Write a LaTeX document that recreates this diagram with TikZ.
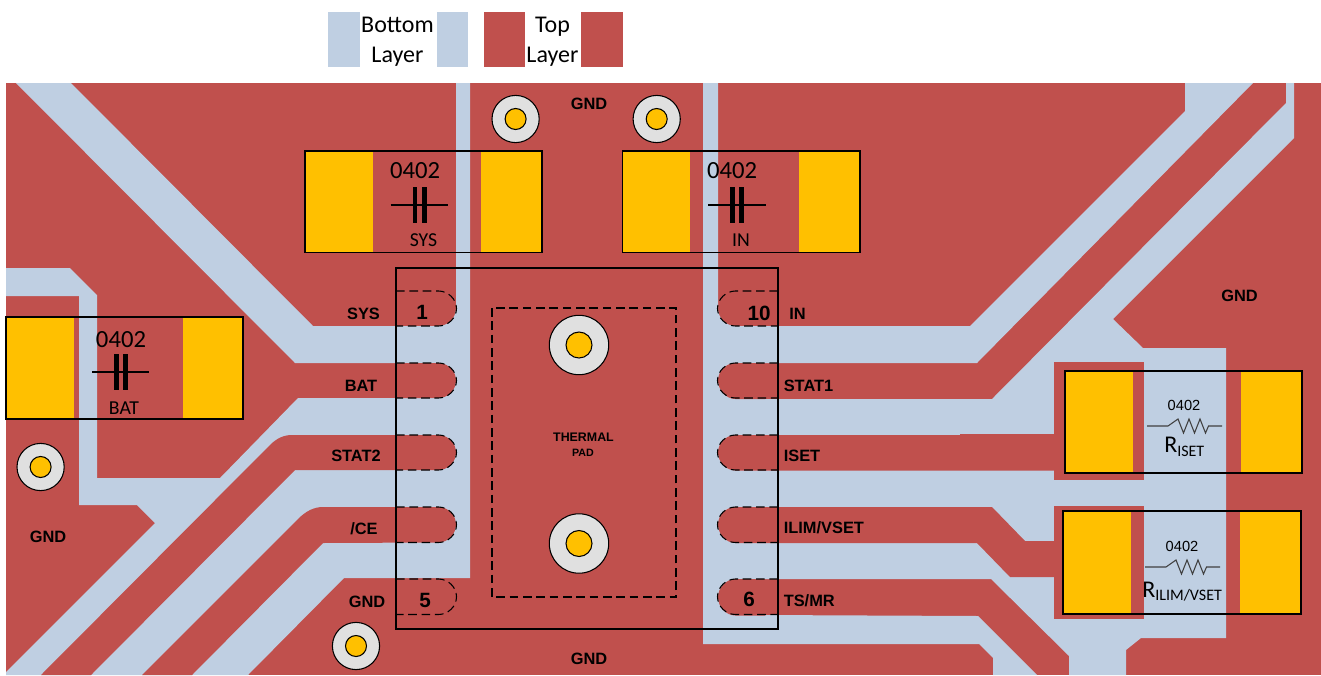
\documentclass[tikz,border=0pt]{standalone}
\usepackage{fontspec}
\setmainfont{Liberation Sans}
\newfontfamily\calfont{Carlito}
\definecolor{toplayer}{HTML}{C0504D}
\definecolor{botlayer}{HTML}{BFCFE2}
\definecolor{padyel}{HTML}{FFC000}
\definecolor{viagrey}{HTML}{E0E0E0}
\tikzset{
  redfill/.style={fill=toplayer,draw=none},
  bluefill/.style={fill=botlayer,draw=none},
  yelfill/.style={fill=padyel,draw=none},
  compbox/.style={draw=black,line width=0.8pt,fill=none},
  dashline/.style={draw=black,line width=0.8pt,dash pattern=on 6.5pt off 3.5pt},
  lab/.style={inner sep=0pt,font=\bfseries\fontsize{12.3}{14}\selectfont},
  pinnum/.style={inner sep=0pt,font=\bfseries\fontsize{15.5}{17}\selectfont},
  cal/.style={inner sep=0pt,font=\calfont\fontsize{18.5}{20}\selectfont},
  calsmall/.style={inner sep=0pt,font=\calfont\fontsize{14.8}{16}\selectfont},
  legendtxt/.style={inner sep=0pt,align=center,font=\calfont\fontsize{18}{22.5}\selectfont},
  resval/.style={inner sep=0pt,font=\fontsize{11}{13}\selectfont},
  reslab/.style={inner sep=0pt,anchor=base west,font=\calfont\fontsize{18}{20}\selectfont},
  zig/.style={draw=black!75,line width=0.8pt,line join=miter},
  capwire/.style={draw=black,line width=1.1pt},
  capplate/.style={draw=black,line width=3.4pt},
}
% via: centre x, y, outer r, inner r, name
\newcommand{\myvia}[5]{%
  \path[fill=viagrey,draw=black,line width=0.8pt] (#1,#2) circle[radius=#3*0.75pt];
  \path[fill=padyel,draw=black,line width=0.8pt] (#1,#2) circle[radius=#4*0.75pt];
}
% capacitor: wire x1,x2, plate xs, y centre, plate half height
\newcommand{\mycap}[6]{%
  \draw[capwire] (#1,#4) -- (#2,#4);
  \draw[capplate] (#3,#4-#5) -- (#3,#4+#5);
  \draw[capplate] (#6,#4-#5) -- (#6,#4+#5);
}
\newcommand{\myres}[2]{% start x of zigzag, y
  \draw[zig] (#1-21,#2) -- (#1,#2) -- ++(10,-7) -- ++(5.5,14) -- ++(5.5,-14) -- ++(5.5,14) -- ++(5.5,-14) -- ++(5.5,14) -- ++(3,-7) -- (#1+54,#2);
}
\begin{document}
\begin{tikzpicture}[x=0.75pt,y=-0.75pt]
\useasboundingbox (0,0) rectangle (1321,675);
% legend
\fill[botlayer] (328,12) rectangle (360,67);
\fill[botlayer] (437,12) rectangle (468,67);
\fill[toplayer] (484,12) rectangle (525,67);
\fill[toplayer] (581,12) rectangle (623,67);
\node[legendtxt] (legbot) at (397.5,42) {Bottom\\Layer};
\node[legendtxt] (legtop) at (552.5,42) {Top\\Layer};
% board
\fill[toplayer] (6,83) rectangle (1321,675);
% left copper (bottom layer)
\path[bluefill] (16,83) -- (71,83) -- (313,326) -- (438.5,326)
  .. controls (448,326) and (456,318) .. (456,308.5)
  -- (456,83) -- (470,83) -- (470,578) -- (344,578) -- (248,675)
  -- (6,675) -- (6,672) -- (155,523) -- (137,505) -- (79,505) -- (79,296)
  -- (6,296) -- (6,268) -- (70,268) -- (97,295) -- (97,478) -- (220,478)
  -- (298,398) -- (420,398) -- (420,363) -- (295,363) -- cycle;
% right copper (bottom layer)
\path[bluefill] (703,83) -- (718,83) -- (718,308.5)
  .. controls (718,318) and (726,326) .. (735.5,326)
  -- (970,326) -- (1185,111) -- (1185,83) -- (1253,83) -- (977,363)
  -- (760,363) -- (760,399) -- (992,399) -- (1286,103) -- (1286,83)
  -- (1294,83) -- (1294,138) -- (1113,319) -- (1143,348) -- (1226,348)
  -- (1226,638) -- (1141,638) -- (1126,650) -- (1126,675) -- (1069,675)
  -- (1069,656) -- (991,579) -- (760,579) -- (760,615) -- (978,616)
  -- (1037,675) -- (993,675) -- (993,658) -- (979,644) -- (703,644) -- cycle;
% left traces
\path[redfill] (41,675) -- (270,445) .. controls (277,438) and (284,435) .. (292,435)
  -- (438.5,435) .. controls (448,435) and (456,443) .. (456,452.5)
  .. controls (456,462) and (448,470) .. (438.5,470) -- (295,470) -- (91,675) -- cycle;
\path[redfill] (142,675) -- (298,519) .. controls (306,511) and (314,507) .. (323,507)
  -- (438.5,507) .. controls (448,507) and (456,515) .. (456,524.5)
  .. controls (456,534) and (448,542.5) .. (438.5,542.5) -- (323,543) -- (192,675) -- cycle;
\path[redfill] (400,363) -- (438.5,363) .. controls (448,363) and (456,371) .. (456,380.5)
  .. controls (456,390) and (448,398) .. (438.5,398) -- (400,398) -- cycle;
% right traces
\path[redfill] (765,363) -- (735.5,363) .. controls (726,363) and (718,371) .. (718,380.5)
  .. controls (718,390) and (726,399) .. (735.5,399) -- (765,399) -- cycle;
\path[redfill] (765,579) -- (735.5,579) .. controls (726,579) and (718,588) .. (718,597)
  .. controls (718,607) and (726,615.5) .. (735.5,615.5) -- (765,615.5) -- cycle;
\path[redfill] (1054,434) -- (960,434) -- (960,435) -- (735.5,435) .. controls (726,435) and (718,443) .. (718,452.5)
  .. controls (718,462) and (726,470.5) .. (735.5,470.5) -- (1054,470.5) -- cycle;
\path[redfill] (1054,541) -- (1025,541) -- (992,507) -- (735.5,507)
  .. controls (726,507) and (718,515) .. (718,524.5)
  .. controls (718,534) and (726,543) .. (735.5,543) -- (977,543) -- (1010,577) -- (1054,577) -- cycle;
\fill[toplayer] (1054,362) rectangle (1144,480);
\fill[toplayer] (1054,506) rectangle (1144,619);
% component pads
\fill[padyel] (305,151) rectangle (373,252.5);
\fill[padyel] (481,151) rectangle (542,252.5);
\fill[padyel] (622.5,151) rectangle (690,252.5);
\fill[padyel] (799,151) rectangle (860,252.5);
\fill[padyel] (6,317) rectangle (74,419);
\fill[padyel] (183,317) rectangle (243,419);
\fill[padyel] (1065,371) rectangle (1133,473);
\fill[padyel] (1241,371) rectangle (1302,473);
\fill[padyel] (1063,511) rectangle (1131,614);
\fill[padyel] (1240,511) rectangle (1301,614);
\draw[compbox] (305,151) rectangle (542,252.5);
\draw[compbox] (622.5,151) rectangle (860,252.5);
\draw[compbox] (6,317) rectangle (243,419);
\draw[compbox] (1065,371) rectangle (1302,473);
\draw[compbox] (1063,511) rectangle (1301,614);
% vias
\myvia{515.6}{119}{23.6}{10.5}{v1}
\myvia{656.7}{119}{23.6}{10.5}{v2}
\myvia{40.6}{467}{23.6}{10.5}{v3}
\myvia{356}{646}{23.6}{10.5}{v4}
\myvia{579}{345}{29.7}{13}{v5}
\myvia{579}{543.5}{29.7}{13}{v6}
% package
\draw[compbox] (396,268) rectangle (778,629);
\draw[dashline] (492,308) rectangle (676,597);
% pin outlines
\foreach \t/\b in {291/326,363/398,435/470,507/542.5,579/614.5}{
  \draw[dashline] (396,\t) -- (438.5,\t)
    .. controls (448,\t) and (456.5,\t+8) .. (456.5,{(\t+\b)/2})
    .. controls (456.5,\b-8) and (448,\b) .. (438.5,\b) -- (396,\b);
  \draw[dashline] (778,\t) -- (735.5,\t)
    .. controls (726,\t) and (717.5,\t+8) .. (717.5,{(\t+\b)/2})
    .. controls (717.5,\b-8) and (726,\b) .. (735.5,\b) -- (778,\b);
}
% capacitors
\node[cal] (c1val) at (415,171) {0402};
\mycap{390.5}{448}{415.2}{205}{18}{424.3}
\node[calsmall] (c1lab) at (423.5,240) {SYS};
\node[cal] (c2val) at (732,171) {0402};
\mycap{708}{766}{732.5}{205}{18}{741.5}
\node[calsmall] (c2lab) at (741,240) {IN};
\node[cal] (c3val) at (121,340) {0402};
\mycap{92}{149}{116.5}{372}{18}{125.3}
\node[calsmall] (c3lab) at (124,408) {BAT};
% resistors
\node[resval] (r1val) at (1184,405) {0402};
\myres{1168}{426}
\node[reslab] (r1lab) at (1164,452.3) {R\raisebox{-2.8pt}{\fontsize{12}{12}\selectfont ISET}};
\node[resval] (r2val) at (1182,546) {0402};
\myres{1166}{567}
\node[reslab] (r2lab) at (1142,597) {R\raisebox{-2.3pt}{\fontsize{12}{12}\selectfont ILIM/VSET}};
% labels
\node[lab] (lsys) at (363.5,314) {SYS};
\node[lab] (lbat) at (361,386) {BAT};
\node[lab] (lst2) at (356,456) {STAT2};
\node[lab] (lce) at (364,528.5) {/CE};
\node[lab] (lgnd5) at (367,601.5) {GND};
\node[lab,anchor=west] (lin) at (789,314) {IN};
\node[lab,anchor=west] (lst1) at (783.5,386) {STAT1};
\node[lab,anchor=west] (liset) at (783.5,456) {ISET};
\node[lab,anchor=west] (lilim) at (783.5,528) {ILIM/VSET};
\node[lab,anchor=west] (lts) at (783.5,601) {TS/MR};
\node[lab] (gndtop) at (589,104) {GND};
\node[lab] (gndbot) at (589,659) {GND};
\node[lab] (gndl) at (48,537) {GND};
\node[lab] (gndr) at (1239.5,296) {GND};
\node[pinnum] (p1) at (422,312) {1};
\node[pinnum] (p5) at (425,600) {5};
\node[pinnum] (p10) at (759,313.5) {10};
\node[pinnum] (p6) at (749,599.5) {6};
\node[inner sep=0pt,font=\bfseries\fontsize{9.3}{11}\selectfont] (th) at (583.5,437.5) {THERMAL};
\node[inner sep=0pt,font=\bfseries\fontsize{8}{9}\selectfont] (pad) at (583,453) {PAD};
\end{tikzpicture}
\end{document}
